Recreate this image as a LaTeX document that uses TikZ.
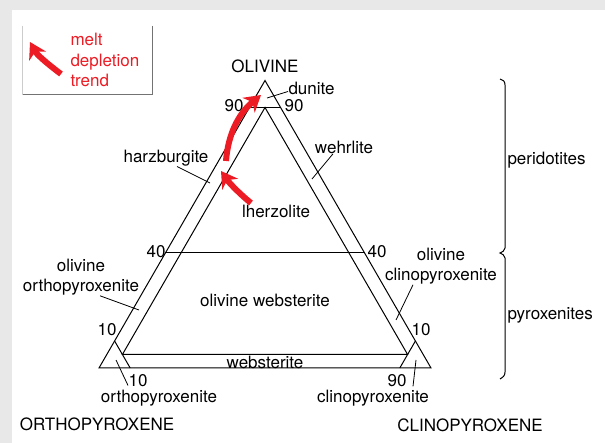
\documentclass[tikz,border=0pt]{standalone}
\usepackage{fontspec}
\setmainfont{TeX Gyre Heros}
\usetikzlibrary{arrows.meta}
\definecolor{meltred}{RGB}{237,28,36}
\tikzset{
  lbl/.style={inner sep=0pt, font=\fontsize{17}{20.5}\selectfont},
  leader/.style={line width=0.8pt},
  trend/.style={meltred, line width=6pt, -{Stealth[length=16pt,width=19pt,inset=5pt]}},
}

\begin{document}
\begin{tikzpicture}[x=1pt,y=-1pt,line width=1pt]
\useasboundingbox (0,0) rectangle (605,443);
\fill[black!9] (0,0) rectangle (605,443);
\fill[white] (12,10) rectangle (605,443);

% legend box
\draw[black!20] (22.5,26) -- (22.5,95);
\draw[black!55] (152,26) -- (152,95) -- (22.5,95);
\node[lbl, meltred, align=left, anchor=west] (legend) at (70,60) {melt\\depletion\\trend};

% outer and inner triangle
\draw[line join=miter] (99,368) -- (431,368) -- (265,80.5) -- cycle;
\draw[line join=miter] (122.4,354.5) -- (407.6,354.5) -- (265,107.5) -- cycle;
\draw (249.4,107.5) -- (280.6,107.5);
\draw (165.4,253) -- (364.6,253);
\draw (114.6,341) -- (130.2,368);
\draw (415.4,341) -- (399.8,368);

% end members
\node[lbl] (ol) at (265,66) {OLIVINE};
\node[lbl] (opx) at (97,424) {ORTHOPYROXENE};
\node[lbl] (cpx) at (470,425) {CLINOPYROXENE};

% tick values
\node[lbl] (ninetyl) at (234,105.5) {90};
\node[lbl] (ninetyr) at (294,105.5) {90};
\node[lbl] (fortyl) at (156,252) {40};
\node[lbl] (fortyr) at (377,252) {40};
\node[lbl] (tenl) at (107,330) {10};
\node[lbl] (tenr) at (421,330) {10};
\node[lbl] (tenb) at (138,381) {10};
\node[lbl] (ninetyb) at (397,381) {90};

% rock names
\node[lbl, anchor=west] (dun) at (288,88.5) {dunite};
\node[lbl] (harz) at (166,158) {harzburgite};
\node[lbl] (wehr) at (344,147) {wehrlite};
\node[lbl] (lherz) at (276,211) {lherzolite};
\node[lbl] (olweb) at (265,300) {olivine websterite};
\node[lbl] (web) at (265,362) {websterite};
\node[lbl, align=center] (olopx) at (81,277) {olivine\\orthopyroxenite};
\node[lbl, align=center] (olcpx) at (441,266) {olivine\\clinopyroxenite};
\node[lbl] (opxite) at (159,398) {orthopyroxenite};
\node[lbl] (cpxite) at (373,398) {clinopyroxenite};

% leaders
\coordinate (dunpt) at (267,98);
\coordinate (harzpt) at (210,183);
\coordinate (wehrpt) at (312,179);
\coordinate (olopxpt) at (139,310);
\coordinate (olcpxpt) at (396,320);
\coordinate (opxpt) at (116,360);
\coordinate (cpxpt) at (416,360);
\draw[leader] ([yshift=-3pt]dun.west) -- (dunpt);
\draw[leader] ([xshift=11pt]harz.south) -- (harzpt);
\draw[leader] ([xshift=-11pt]wehr.south) -- (wehrpt);
\draw[leader] ([xshift=19pt]olopx.south) -- (olopxpt);
\draw[leader] ([xshift=-28pt]olcpx.south) -- (olcpxpt);
\draw[leader] ([xshift=-31pt,yshift=4pt]opxite.north) -- (opxpt);
\draw[leader] ([xshift=40pt,yshift=3pt]cpxite.north) -- (cpxpt);

% brace
\draw (500,79) .. controls (503,80) and (505,81) .. (505,85) -- (505,248)
  .. controls (505,251) and (502,252) .. (500,253)
  .. controls (502,254) and (505,255) .. (505,258) -- (505,372)
  .. controls (505,376) and (503,377) .. (500,379);
\node[lbl, anchor=west] (perid) at (507,160) {peridotites};
\node[lbl, anchor=west] (pyrox) at (507,315) {pyroxenites};

% melt depletion arrows
\draw[trend] (61,74) .. controls (49,65) and (37,55) .. (30,42);
\draw[trend] (251,203) .. controls (241,195) and (230,184) .. (221,171);
\draw[trend] (226,161) .. controls (228,135) and (238,114) .. (261,95);
\end{tikzpicture}
\end{document}
